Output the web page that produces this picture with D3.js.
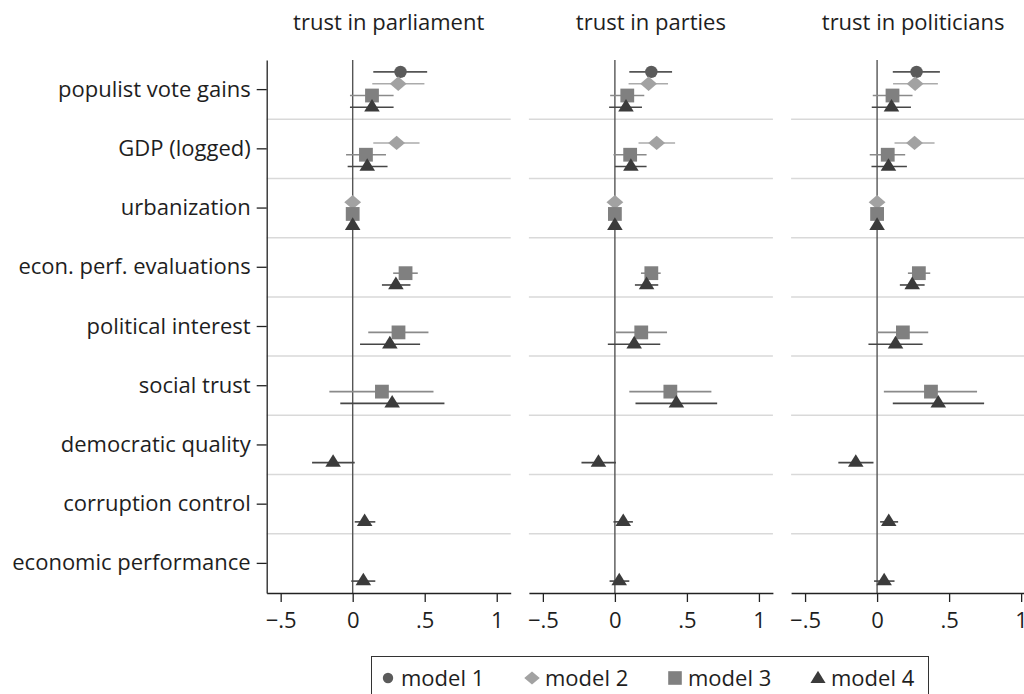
<!DOCTYPE html>
<html>
<head>
<meta charset="utf-8">
<script src="https://cdn.jsdelivr.net/npm/d3@7"></script>
<style>
  html, body { margin: 0; padding: 0; background: #fff; }
  svg { display: block; font-family: "Open Sans", Lato, sans-serif; }
  .lbl { font-size: 22px; fill: #1e1e1e; }
  .grid { stroke: #d9d9d9; stroke-width: 1.5; }
  .zero { stroke: #555; stroke-width: 1.4; }
  .axis path, .axis line { stroke: #222; stroke-width: 1.3; }
  .axis text { font-size: 22px; fill: #1e1e1e; font-family: "Open Sans", Lato, sans-serif; }
</style>
</head>
<body>
<svg id="chart" width="1024" height="694"></svg>
<script>
const predictors = [
  "populist vote gains", "GDP (logged)", "urbanization", "econ. perf. evaluations",
  "political interest", "social trust", "democratic quality", "corruption control",
  "economic performance"
];
const outcomes = ["trust in parliament", "trust in parties", "trust in politicians"];
const models = ["model 1", "model 2", "model 3", "model 4"];
const xTicks = [-0.5, 0, 0.5, 1];
const xTickLabels = ["\u2212.5", "0", ".5", "1"];

// per predictor: [model 1, model 2, model 3, model 4], each [estimate, lower, upper] or null
const parliament = [
  [[0.332, 0.143, 0.517], [0.316, 0.136, 0.498], [0.134, -0.019, 0.284], [0.134, -0.019, 0.284]],
  [null, [0.305, 0.143, 0.464], [0.092, -0.046, 0.231], [0.101, -0.035, 0.242]],
  [null, [0.0, -0.003, 0.003], [0.0, -0.003, 0.003], [0.0, -0.003, 0.003]],
  [null, null, [0.367, 0.281, 0.452], [0.300, 0.203, 0.401]],
  [null, null, [0.318, 0.108, 0.526], [0.258, 0.051, 0.468]],
  [null, null, [0.203, -0.162, 0.561], [0.274, -0.086, 0.637]],
  [null, null, null, [-0.136, -0.282, 0.014]],
  [null, null, null, [0.083, 0.014, 0.157]],
  [null, null, null, [0.074, -0.010, 0.157]]
];
const parties = [
  [[0.253, 0.100, 0.397], [0.234, 0.095, 0.369], [0.086, -0.033, 0.204], [0.077, -0.040, 0.188]],
  [null, [0.290, 0.164, 0.418], [0.106, -0.010, 0.220], [0.111, 0.000, 0.220]],
  [null, [0.0, -0.003, 0.003], [0.0, -0.003, 0.003], [0.0, -0.003, 0.003]],
  [null, null, [0.253, 0.181, 0.318], [0.220, 0.139, 0.301]],
  [null, null, [0.183, 0.007, 0.362], [0.134, -0.049, 0.315]],
  [null, null, [0.385, 0.100, 0.670], [0.427, 0.143, 0.710]],
  [null, null, null, [-0.114, -0.232, 0.007]],
  [null, null, null, [0.058, -0.010, 0.125]],
  [null, null, null, [0.030, -0.037, 0.100]]
];
const politicians = [
  [[0.274, 0.109, 0.436], [0.264, 0.111, 0.422], [0.107, -0.030, 0.246], [0.100, -0.037, 0.235]],
  [null, [0.260, 0.121, 0.399], [0.074, -0.051, 0.195], [0.079, -0.039, 0.207]],
  [null, [0.0, -0.003, 0.003], [0.0, -0.003, 0.003], [0.0, -0.003, 0.003]],
  [null, null, [0.290, 0.214, 0.369], [0.244, 0.158, 0.330]],
  [null, null, [0.179, 0.000, 0.355], [0.128, -0.060, 0.316]],
  [null, null, [0.374, 0.047, 0.694], [0.425, 0.109, 0.743]],
  [null, null, null, [-0.148, -0.269, -0.025]],
  [null, null, null, [0.081, 0.021, 0.146]],
  [null, null, null, [0.049, -0.021, 0.121]]
];
const panelData = [parliament, parties, politicians];

const markerFill = ["#5b5b5b", "#a2a2a2", "#808080", "#3b3b3b"];
const ciColor = ["#555555", "#ababab", "#8a8a8a", "#464646"];

// marker shapes, r = half size in px
function markerPath(m, r) {
  const p = d3.path();
  if (m === 0) {
    p.arc(0, 0, r, 0, 2 * Math.PI);
  } else if (m === 1) {
    p.moveTo(0, -r * 0.92); p.lineTo(r * 1.08, 0); p.lineTo(0, r * 0.92); p.lineTo(-r * 1.08, 0);
  } else if (m === 2) {
    p.rect(-r, -r, 2 * r, 2 * r);
  } else {
    // centroid on the line
    const h = r * 1.7, b = r * 1.05;
    p.moveTo(0, -h * 2 / 3); p.lineTo(b, h / 3); p.lineTo(-b, h / 3);
  }
  p.closePath();
  return p.toString();
}
const markerR = [6.2, 7.8, 6.9, 7.4];
const legendR = [5.2, 7.2, 6.8, 7.2];

function translate(x, y) {
  return `translate(${x}, ${y})`;
}

const svg = d3.select("#chart");
const plotTop = 60, plotBottom = 593, panelW = 244, firstLeft = 266.7, panelStep = 262.2;

const yScale = d3.scaleBand().domain(predictors).range([plotTop, plotBottom]);
const offset = d3.scalePoint().domain(models).range([-17.7, 17.7]);
const xScale = d3.scaleLinear().domain([-0.597, 1.097]).range([0, panelW]);

outcomes.forEach((name, p) => {
  const g = svg.append("g").attr("transform", translate(firstLeft + p * panelStep, 0));

  g.append("text")
    .attr("class", "lbl")
    .attr("x", panelW / 2)
    .attr("y", 30)
    .attr("text-anchor", "middle")
    .text(name);

  // light separators between rows
  g.selectAll(".grid")
    .data(predictors.slice(1))
    .enter()
    .append("line")
    .attr("class", "grid")
    .attr("x1", 0)
    .attr("x2", panelW)
    .attr("y1", d => yScale(d))
    .attr("y2", d => yScale(d));

  g.append("line")
    .attr("class", "zero")
    .attr("x1", xScale(0))
    .attr("x2", xScale(0))
    .attr("y1", plotTop)
    .attr("y2", plotBottom);

  const xAxis = g.append("g")
    .attr("class", "axis")
    .attr("transform", translate(0, plotBottom))
    .call(d3.axisBottom(xScale)
      .tickValues(xTicks)
      .tickSize(9)
      .tickSizeOuter(0)
      .tickFormat((d, i) => xTickLabels[i]));
  xAxis.selectAll("text").attr("dy", null).attr("y", 35);

  if (p === 0) {
    const yAxis = g.append("g")
      .attr("class", "axis")
      .call(d3.axisLeft(yScale)
        .tickSize(10)
        .tickSizeOuter(0)
        .tickPadding(6));
    yAxis.selectAll("text").attr("dy", "0.32em");
  }

  const rows = panelData[p];
  rows.forEach((row, r) => {
    const yc = yScale(predictors[r]) + yScale.bandwidth() / 2;
    row.forEach((est, m) => {
      if (!est) return;
      const y = yc + offset(models[m]);
      g.append("line")
        .attr("x1", xScale(est[1]))
        .attr("x2", xScale(est[2]))
        .attr("y1", y)
        .attr("y2", y)
        .attr("stroke", ciColor[m])
        .attr("stroke-width", 1.6);
      g.append("path")
        .attr("d", markerPath(m, markerR[m]))
        .attr("transform", translate(xScale(est[0]), y))
        .attr("fill", markerFill[m]);
    });
  });
});

// legend, centred under the panels
const legend = svg.append("g");
legend.append("rect")
  .attr("x", 371.5)
  .attr("y", 656.5)
  .attr("width", 557)
  .attr("height", 50)
  .attr("fill", "#fff")
  .attr("stroke", "#333")
  .attr("stroke-width", 1);

const legendX = [388, 532, 675, 818];
models.forEach((name, m) => {
  legend.append("path")
    .attr("d", markerPath(m, legendR[m]))
    .attr("transform", translate(legendX[m], m === 3 ? 679 : 678))
    .attr("fill", markerFill[m]);
  legend.append("text")
    .attr("class", "lbl")
    .attr("x", legendX[m] + 13)
    .attr("y", 686)
    .text(name);
});
</script>
</body>
</html>
